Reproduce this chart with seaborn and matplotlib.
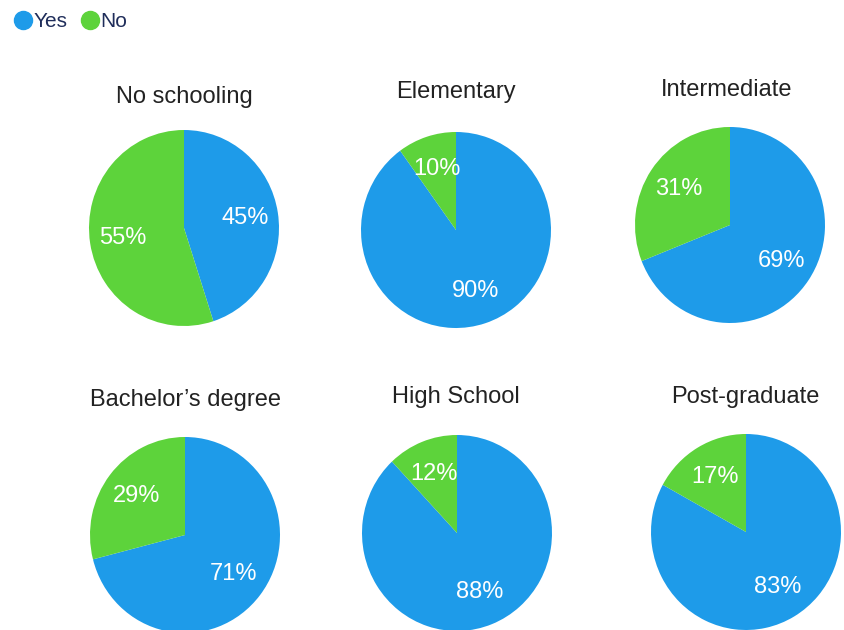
import matplotlib
matplotlib.use("Agg")
import matplotlib.pyplot as plt
from matplotlib.lines import Line2D
import seaborn as sns

categories = ["No schooling", "Elementary", "Intermediate",
              "Bachelor\u2019s degree", "High School", "Post-graduate"]
yes_values = [45, 90, 69, 71, 88, 83]
no_values = [55, 10, 31, 29, 12, 17]
series_names = ["Yes", "No"]

sns.set_theme(style="white")
plt.rcParams['font.family'] = ['Liberation Sans', 'DejaVu Sans']
colors = ["#1E9BE9", "#5DD33B"]

W, H = 844, 630
fig = plt.figure(figsize=(W / 100, H / 100), dpi=100)

centers = [(184, 228), (456, 230), (730, 225), (185, 535), (457, 533), (746, 532)]
title_pos = [(184, 97), (456, 92), (727, 90), (185, 400), (456, 397), (745, 397)]
rx, ry = 95, 98

for i, cat in enumerate(categories):
    cx, cy = centers[i]
    ax = fig.add_axes([(cx - rx) / W, 1 - (cy + ry) / H, 2 * rx / W, 2 * ry / H])
    ax.pie([yes_values[i], no_values[i]], colors=colors, startangle=90,
           counterclock=False, labels=None,
           autopct=lambda p: f"{p:.0f}%", pctdistance=0.65,
           textprops=dict(color="white", fontsize=17),
           wedgeprops=dict(linewidth=0))
    ax.set_aspect("auto")
    ax.set_xlim(-1, 1)
    ax.set_ylim(-1, 1)
    ax.axis("off")
    tx, ty = title_pos[i]
    fig.text(tx / W, 1 - ty / H, cat, ha="center", va="center",
             fontsize=17, color="#222222")

handles = [Line2D([], [], marker="o", linestyle="", markersize=13,
                  markerfacecolor=c, markeredgecolor=c) for c in colors]
leg = fig.legend(handles, series_names, loc="upper left", bbox_to_anchor=(0.0, 1.0),
                 ncol=2, frameon=False, fontsize=15, handletextpad=0.0,
                 columnspacing=0.6, borderaxespad=0.2, handlelength=1.0)
for t in leg.get_texts():
    t.set_color("#1F2D5A")

fig.savefig("out.png", dpi=100, facecolor="white")
